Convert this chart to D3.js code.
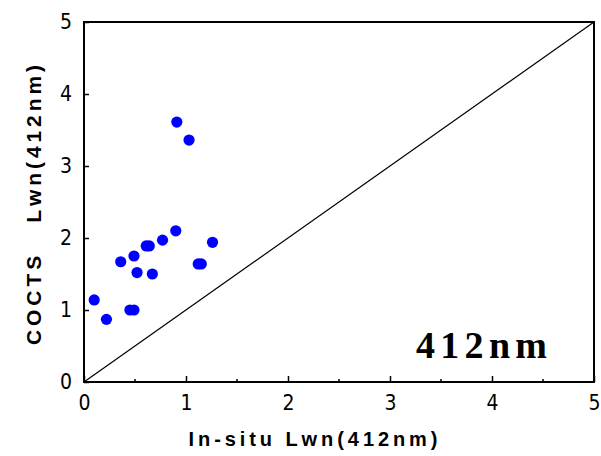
<!DOCTYPE html>
<html>
<head>
<meta charset="utf-8">
<script src="https://cdn.jsdelivr.net/npm/d3@7"></script>
<style>
  body { margin: 0; background: #fff; }
  svg { display: block; }
</style>
</head>
<body>
<svg id="chart" width="601" height="456"></svg>
<script>
// in-situ vs COCTS normalized water-leaving radiance, 412nm band
const insitu = [0.91, 1.03, 0.90, 0.77, 0.61, 0.64, 0.49, 0.36, 0.52, 0.67, 1.12, 1.15, 1.26, 0.10, 0.22, 0.45, 0.49];
const cocts  = [3.61, 3.36, 2.10, 1.97, 1.89, 1.89, 1.75, 1.67, 1.52, 1.50, 1.64, 1.64, 1.94, 1.14, 0.87, 1.00, 1.00];
const tickValues = [0, 1, 2, 3, 4, 5];
const minorTicks = [0.5, 1.5, 2.5, 3.5, 4.5];

const svg = d3.select('#chart');
const plotL = 84, plotR = 594, plotT = 22, plotB = 382;

const x = d3.scaleLinear().domain([0, 5]).range([plotL, plotR]);
const y = d3.scaleLinear().domain([0, 5]).range([plotB, plotT]);

// 1:1 reference line
svg.append('line')
  .attr('x1', x(0)).attr('y1', y(0))
  .attr('x2', x(5)).attr('y2', y(5))
  .attr('stroke', '#000').attr('stroke-width', 1.2);

// points
svg.append('g').selectAll('circle')
  .data(insitu.map((v, i) => [v, cocts[i]]))
  .enter().append('circle')
  .attr('cx', d => x(d[0]))
  .attr('cy', d => y(d[1]))
  .attr('r', 5.6)
  .attr('fill', '#0000ff');

// frame
svg.append('rect')
  .attr('x', plotL).attr('y', plotT)
  .attr('width', plotR - plotL).attr('height', plotB - plotT)
  .attr('fill', 'none').attr('stroke', '#000').attr('stroke-width', 2);

const styleTicks = g => {
  g.select('.domain').remove();
  g.selectAll('line').attr('stroke-width', 1.5);
  g.selectAll('text')
    .attr('font-family', 'Liberation Sans Narrow, DejaVu Sans Condensed, sans-serif')
    .attr('font-weight', 'normal')
    .attr('font-size', 21)
    .attr('fill', '#000');
};

// bottom axis, inward ticks
svg.append('g').attr('transform', `translate(0,${plotB})`)
  .call(d3.axisBottom(x).tickValues(tickValues).tickFormat(d3.format('d'))
    .tickSizeInner(-6).tickSizeOuter(0).tickPadding(13))
  .call(styleTicks);

svg.append('g').attr('transform', `translate(0,${plotB})`)
  .selectAll('line').data(minorTicks).enter().append('line')
  .attr('x1', d => x(d)).attr('x2', d => x(d))
  .attr('y1', 0).attr('y2', -3)
  .attr('stroke', '#000').attr('stroke-width', 1.5);

// left axis, inward ticks
svg.append('g').attr('transform', `translate(${plotL},0)`)
  .call(d3.axisLeft(y).tickValues(tickValues).tickFormat(d3.format('d'))
    .tickSizeInner(-5).tickSizeOuter(0).tickPadding(12))
  .call(styleTicks);

// axis titles
svg.append('text')
  .attr('x', 313).attr('y', 446)
  .attr('text-anchor', 'middle')
  .attr('font-family', 'Liberation Sans, Arial, sans-serif')
  .attr('font-weight', 'bold')
  .attr('font-size', 20)
  .attr('textLength', 249)
  .attr('lengthAdjust', 'spacing')
  .text('In-situ Lwn(412nm)');

svg.append('text')
  .attr('transform', 'translate(41,205) rotate(-90)')
  .attr('text-anchor', 'middle')
  .attr('font-family', 'Liberation Sans, Arial, sans-serif')
  .attr('font-weight', 'bold')
  .attr('font-size', 21)
  .attr('textLength', 280)
  .attr('lengthAdjust', 'spacing')
  .attr('xml:space', 'preserve')
  .text('COCTS   Lwn(412nm)');

// band label
svg.append('text')
  .attr('x', 416).attr('y', 358)
  .attr('font-family', 'Liberation Serif, Times New Roman, serif')
  .attr('font-weight', 'bold')
  .attr('font-size', 38)
  .attr('textLength', 131)
  .attr('lengthAdjust', 'spacing')
  .text('412nm');
</script>
</body>
</html>
